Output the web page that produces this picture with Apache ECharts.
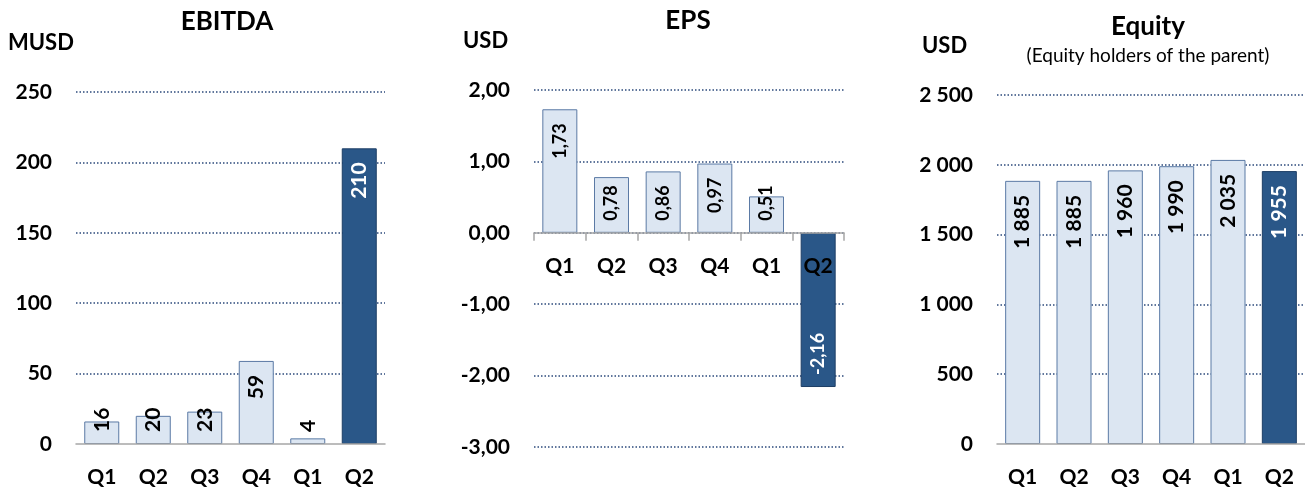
<!DOCTYPE html>
<html>
<head>
<meta charset="utf-8">
<title>EBITDA / EPS / Equity</title>
<script src="https://cdn.jsdelivr.net/npm/echarts@6/dist/echarts.min.js"></script>
<style>
    html, body { margin: 0; padding: 0; background: #fff; }
    #main { width: 1305px; height: 488px; }
</style>
</head>
<body>
<div id="main"></div>
<script>
// quarters, last two belong to the following year
const quarters = ['Q1', 'Q2', 'Q3', 'Q4', 'Q1', 'Q2'];

const ebitdaValues = [16, 20, 23, 59, 4, 210];
const epsValues = [1.73, 0.78, 0.86, 0.97, 0.51, -2.16];
const equityValues = [1885, 1885, 1960, 1990, 2035, 1955];

const ebitdaAxis = { min: 0, max: 250, interval: 50 };
const epsAxis = { min: -3, max: 2, interval: 1 };
const equityAxis = { min: 0, max: 2500, interval: 500 };

const FONT = 'Lato';
const LIGHT = '#dce6f2';
const LIGHT_BORDER = '#5b7aa5';
const DARK = '#2a5788';
const DARK_BORDER = '#1e3f66';
const GRID_LINE = '#2c4a7c';
const AXIS_LINE = '#a6a6a6';

const grids = [
    { left: 76, width: 309, top: 92, height: 353 },
    { left: 534, width: 310, top: 90, height: 357 },
    { left: 997, width: 308, top: 95, height: 350 }
];

function fmtComma(v) {
    return v.toFixed(2).replace('.', ',');
}
function fmtSpace(v) {
    return String(v).replace(/\B(?=(\d{3})+(?!\d))/g, ' ');
}

// bars too short for their label get it at the base, like Excel does
function buildItems(values, fmt, fitMin, fontSize) {
    return values.map(function (v, i) {
        let last = i === values.length - 1;
        let atBase = v < 0 || Math.abs(v) < fitMin;
        return {
            value: v,
            itemStyle: {
                color: last ? DARK : LIGHT,
                borderColor: last ? DARK_BORDER : LIGHT_BORDER,
                borderWidth: 1
            },
            label: {
                show: true,
                rotate: 90,
                position: atBase ? 'insideBottom' : 'insideTop',
                align: atBase ? 'left' : 'right',
                verticalAlign: 'middle',
                distance: atBase ? 12 : 14,
                color: last ? '#fff' : '#000',
                fontFamily: FONT,
                fontWeight: 'bold',
                fontSize: fontSize,
                formatter: function () { return fmt(v); }
            }
        };
    });
}

function yAxisFor(idx, range, fmt, hideMin) {
    return Object.assign({
        type: 'value',
        gridIndex: idx,
        axisLine: { show: false },
        axisTick: { show: false },
        axisLabel: {
            margin: 24,
            color: '#000',
            fontFamily: FONT,
            fontWeight: 'bold',
            fontSize: 21,
            formatter: fmt
        },
        splitLine: {
            show: true,
            showMinLine: !hideMin,
            lineStyle: { color: GRID_LINE, width: 1.5, type: [1.5, 2] }
        }
    }, range);
}

// category axis sits on the zero line: shift it up from the grid bottom
function xAxisFor(idx, range, ticks) {
    let g = grids[idx];
    let shift = range.min < 0 ? g.height * (0 - range.min) / (range.max - range.min) : 0;
    return {
        type: 'category',
        gridIndex: idx,
        data: quarters,
        z: 10,
        offset: -shift,
        axisLine: { show: true, onZero: false, lineStyle: { color: AXIS_LINE, width: 1.5 } },
        axisTick: { show: ticks, length: 8, lineStyle: { color: AXIS_LINE, width: 1.5 } },
        axisLabel: {
            margin: 23,
            color: '#000',
            fontFamily: FONT,
            fontWeight: 'bold',
            fontSize: 21
        }
    };
}

function headText(x, y, text, size, weight, align) {
    return {
        type: 'text',
        x: x,
        y: y,
        style: {
            text: text,
            fill: '#000',
            font: weight + ' ' + size + 'px ' + FONT,
            align: align,
            verticalAlign: 'middle'
        }
    };
}

const chart = echarts.init(document.getElementById('main'));

chart.setOption({
    animation: false,
    grid: grids,
    xAxis: [xAxisFor(0, ebitdaAxis, false), xAxisFor(1, epsAxis, true), xAxisFor(2, equityAxis, false)],
    yAxis: [
        yAxisFor(0, ebitdaAxis, function (v) { return String(v); }, true),
        yAxisFor(1, epsAxis, fmtComma, false),
        yAxisFor(2, equityAxis, fmtSpace, true)
    ],
    graphic: [
        headText(227, 22, 'EBITDA', 26, 'bold', 'center'),
        headText(8, 43, 'MUSD', 22, 'bold', 'left'),
        headText(688, 21, 'EPS', 26, 'bold', 'center'),
        headText(463, 41, 'USD', 22, 'bold', 'left'),
        headText(1148, 27, 'Equity', 26, 'bold', 'center'),
        headText(1148, 56, '(Equity holders of the parent)', 19, 'normal', 'center'),
        headText(922, 46, 'USD', 22, 'bold', 'left')
    ],
    series: [
        {
            type: 'bar', xAxisIndex: 0, yAxisIndex: 0, barWidth: 35,
            data: buildItems(ebitdaValues, function (v) { return String(v); }, 40, 21)
        },
        {
            type: 'bar', xAxisIndex: 1, yAxisIndex: 1, barWidth: 35,
            data: buildItems(epsValues, fmtComma, 0.9, 18)
        },
        {
            type: 'bar', xAxisIndex: 2, yAxisIndex: 2, barWidth: 35,
            data: buildItems(equityValues, fmtSpace, 0, 21)
        }
    ]
});
</script>
</body>
</html>
